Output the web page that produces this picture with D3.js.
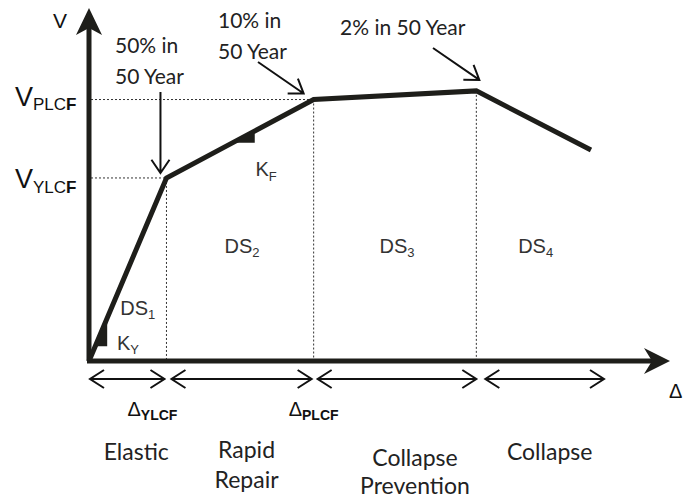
<!DOCTYPE html>
<html>
<head>
<meta charset="utf-8">
<script src="https://cdn.jsdelivr.net/npm/d3@7"></script>
<style>
  body { margin: 0; background: #fff; }
  svg { display: block; }
</style>
</head>
<body>
<svg></svg>
<script>
// pushover curve: drift vs base shear (normalised so V_PLCF = 1)
let drift = [0, 1.0, 2.9, 5.0, 6.48]
let shear = [0, 0.70, 1.0, 1.033, 0.807]
let limitNames = ['YLCF', 'PLCF']
let stateNames = ['1', '2', '3', '4']
let hazardLines = [['50% in', '50 Year'], ['10% in', '50 Year'], ['2% in 50 Year']]
let perfLines = [['Elastic'], ['Rapid', 'Repair'], ['Collapse', 'Prevention'], ['Collapse']]

let width = 683
let height = 499
let ink = '#1e1e1a'
let arial = 'Liberation Sans, Arial, sans-serif'
let calibri = 'Lato, Carlito, Calibri, sans-serif'

let svg = d3.select('svg').attr('width', width).attr('height', height)

let xs = d3.scaleLinear().domain([0, 7.5]).range([89, 670])
let ys = d3.scaleLinear().domain([0, 1.35]).range([361, 8])

let px = (i) => xs(drift[i])
let py = (i) => ys(shear[i])
let x0 = xs(0), y0 = ys(0)

// dotted guide lines
let guide = svg.append('g')
  .attr('stroke', '#333')
  .attr('stroke-width', 1)
  .attr('stroke-dasharray', '2,2')
  .attr('fill', 'none')
;[1, 2].forEach(i => {
  guide.append('line').attr('x1', x0 + 2).attr('x2', px(i)).attr('y1', py(i)).attr('y2', py(i))
})
;[1, 2, 3].forEach(i => {
  guide.append('line').attr('x1', px(i)).attr('x2', px(i)).attr('y1', py(i)).attr('y2', y0)
})

// axes with filled arrow heads
let xEnd = xs.range()[1], yEnd = ys.range()[1]
svg.append('line').attr('x1', x0).attr('y1', y0).attr('x2', x0).attr('y2', yEnd + 20)
  .attr('stroke', ink).attr('stroke-width', 5)
svg.append('line').attr('x1', x0 - 2).attr('y1', y0).attr('x2', xEnd - 16).attr('y2', y0)
  .attr('stroke', ink).attr('stroke-width', 5)
svg.append('path')
  .attr('d', `M${x0},${yEnd} L${x0 + 13},${yEnd + 27} L${x0},${yEnd + 20} L${x0 - 13},${yEnd + 27} Z`)
  .attr('fill', ink)
svg.append('path')
  .attr('d', `M${xEnd},${y0} L${xEnd - 26},${y0 - 13} L${xEnd - 18},${y0} L${xEnd - 26},${y0 + 13} Z`)
  .attr('fill', ink)

// pushover curve
let line = d3.line().x(i => px(i)).y(i => py(i))
svg.append('path')
  .datum(d3.range(drift.length))
  .attr('d', line)
  .attr('fill', 'none')
  .attr('stroke', ink)
  .attr('stroke-width', 5)
  .attr('stroke-linejoin', 'miter')

// stiffness triangles
let along = (i, t) => [px(i) + (px(i + 1) - px(i)) * t, py(i) + (py(i + 1) - py(i)) * t]
let triangle = (i, t1, t2) => {
  let a = along(i, t1), c = along(i, t2)
  svg.append('path').attr('d', `M${a[0]},${a[1]} L${c[0]},${a[1]} L${c[0]},${c[1]} Z`).attr('fill', ink)
}
triangle(0, 0.08, 0.235)
triangle(1, 0.45, 0.6)

// text helper: main text with subscript parts
let label = (x, y, parts, opts) => {
  let t = svg.append('text').attr('x', x).attr('y', y)
    .attr('font-family', opts.family || arial)
    .attr('font-size', opts.size)
    .attr('fill', opts.fill || '#111')
    .attr('text-anchor', opts.anchor || 'start')
  parts.forEach(p => {
    t.append('tspan').text(p.t)
      .attr('font-size', p.size || null)
      .attr('font-weight', p.bold ? 'bold' : null)
      .attr('dy', p.dy || null)
  })
  return t
}

// axis titles
label(x0 - 36, 28, [{ t: 'V' }], { size: 21 })
label(xEnd - 1, 398, [{ t: '\u0394' }], { size: 20 })

// V limit labels
label(x0 - 74, py(2) + 6, [{ t: 'V' }, { t: 'PLC', size: 17, dy: 4 }, { t: 'F', size: 17, bold: true }], { size: 27 })
label(x0 - 74, py(1) + 10, [{ t: 'V' }, { t: 'YLC', size: 17, dy: 5 }, { t: 'F', size: 17, bold: true }], { size: 27 })

// stiffness labels
label(x0 + 28, y0 - 11, [{ t: 'K' }, { t: 'Y', size: 13, dy: 4 }], { size: 20, fill: '#333' })
label(px(1) + 89, py(1) - 2, [{ t: 'K' }, { t: 'F', size: 13, dy: 5 }], { size: 20, fill: '#333' })

// damage state labels
stateNames.forEach((s, i) => {
  let cx = i === 0 ? (x0 + px(1)) / 2 + 10 : (px(i) + px(i + 1)) / 2 + 2
  let cy = i === 0 ? y0 - 46 : y0 - 108
  label(cx, cy, [{ t: 'DS' }, { t: s, size: 13, dy: 4 }], { size: 20, anchor: 'middle', fill: '#333' })
})

// delta limit labels
label(px(1) - 39, y0 + 55, [{ t: '\u0394' }, { t: limitNames[0], size: 14, bold: true, dy: 4 }], { size: 20 })
label(px(2) - 25, y0 + 55, [{ t: '\u0394' }, { t: limitNames[1], size: 14, bold: true, dy: 4 }], { size: 20 })

// hazard annotations with open arrow heads
let arrow = (x1, y1, x2, y2) => {
  let ang = Math.atan2(y2 - y1, x2 - x1), len = 16, spread = 0.6
  svg.append('path')
    .attr('d', `M${x1},${y1} L${x2},${y2} M${x2 - len * Math.cos(ang - spread)},${y2 - len * Math.sin(ang - spread)} L${x2},${y2} L${x2 - len * Math.cos(ang + spread)},${y2 - len * Math.sin(ang + spread)}`)
    .attr('fill', 'none').attr('stroke', '#111').attr('stroke-width', 2)
}
arrow(px(1) - 6, 92, px(1) - 6, py(1) - 5)
arrow(258, 62, px(2) - 10, py(2) - 6)
arrow(433, 48, px(3) + 3, py(3) - 11)

let hazardAt = [[115, 53], [218, 28], [340, 35]]
hazardLines.forEach((lines, i) => {
  lines.forEach((s, j) => {
    label(hazardAt[i][0], hazardAt[i][1] + j * 31, [{ t: s }], { size: 21, family: calibri, fill: '#222' })
  })
})

// performance range double arrows
let spans = [[x0 + 1, px(1) - 2], [px(1) + 5, px(2) - 2], [px(2) + 4, px(3)], [px(3) + 9, 604]]
let ay = y0 + 18
spans.forEach(s => {
  let h = 14, w = 9
  svg.append('path')
    .attr('d', `M${s[0]},${ay} L${s[1]},${ay} M${s[0] + h},${ay - w} L${s[0]},${ay} L${s[0] + h},${ay + w} M${s[1] - h},${ay - w} L${s[1]},${ay} L${s[1] - h},${ay + w}`)
    .attr('fill', 'none').attr('stroke', '#111').attr('stroke-width', 2)
})

// performance level labels
let perfShift = [9, 5, 18, 5]
let perfBase = [99, 97, 105, 99]
perfLines.forEach((lines, i) => {
  let cx = (spans[i][0] + spans[i][1]) / 2 + perfShift[i]
  lines.forEach((s, j) => {
    label(cx, y0 + perfBase[i] + j * (i === 2 ? 28 : 30), [{ t: s }], { size: 23, family: calibri, anchor: 'middle', fill: '#222' })
  })
})
</script>
</body>
</html>
